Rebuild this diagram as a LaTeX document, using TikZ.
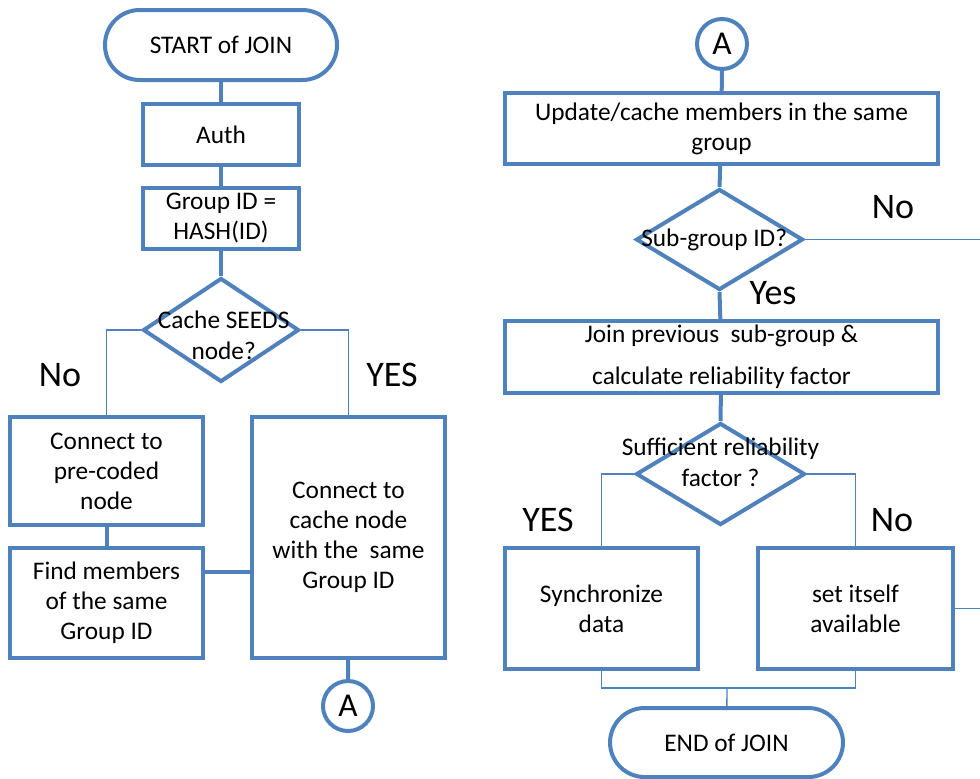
\documentclass[tikz,border=0pt]{standalone}
\usepackage{fontspec}
\setmainfont{Carlito}
\usetikzlibrary{shapes.geometric}
\definecolor{flowblue}{RGB}{79,129,189}

\tikzset{
  box/.style={draw=flowblue, line width=3pt, fill=white, align=center,
    font=\fontsize{19}{22.5}\selectfont, inner sep=2pt},
  term/.style={box, rounded corners=26pt},
  decision/.style={draw=flowblue, line width=3pt, fill=white, diamond, inner sep=0pt},
  dtext/.style={align=center, font=\fontsize{19}{23}\selectfont},
  conn/.style={draw=flowblue, line width=3pt, fill=white, circle, inner sep=0pt,
    minimum size=37.5pt, font=\fontsize{25}{30}\selectfont},
  thickline/.style={draw=flowblue, line width=3pt},
  thinline/.style={draw=flowblue, line width=1pt},
  answer/.style={font=\fontsize{27}{32}\selectfont}
}

\begin{document}
\begin{tikzpicture}[x=0.75pt, y=-0.75pt]
\useasboundingbox (0,0) rectangle (980,778);

\node[term, minimum width=174pt, minimum height=52.5pt] (start) at (221,45) {START of JOIN};
\node[box, minimum width=117pt, minimum height=45.75pt] (auth) at (221,134.5) {Auth};
\node[box, minimum width=117pt, minimum height=45.75pt] (gid) at (221,218.5) {Group ID =\\HASH(ID)};
\node[decision, minimum width=117pt, minimum height=78pt,
  label={[dtext, xshift=2pt, yshift=-4pt]center:Cache SEEDS\\node?}] (seeds) at (221,330) {};
\node[box, minimum width=144.75pt, minimum height=81pt] (pre) at (106.5,471) {Connect to\\pre-coded\\node};
\node[box, minimum width=144.75pt, minimum height=82.5pt] (find) at (106.5,603) {Find members\\of the same\\Group ID};
\node[box, minimum width=144.75pt, minimum height=180.75pt] (cache) at (348.5,537.5) {Connect to\\cache node\\with the\ \ same\\Group ID};
\node[conn] (aL) at (348,706) {A};

\node[conn] (aR) at (722,44) {A};
\node[box, minimum width=324.75pt, minimum height=53.25pt] (upd) at (721.5,128.5) {Update/cache members in the same\\group};
\node[decision, minimum width=125.25pt, minimum height=75.75pt,
  label={[dtext, xshift=-4pt]center:Sub-group ID?}] (sub) at (719.5,239.5) {};
\node[box, minimum width=324.75pt, minimum height=54pt] (join) at (721.5,357) {Join previous\ \ sub-group \&\\[9pt]calculate reliability factor};
\node[decision, minimum width=126.75pt, minimum height=76.5pt,
  label={[dtext, yshift=9pt]center:Sufficient reliability\\factor ?}] (suff) at (720.5,474) {};
\node[box, minimum width=144.75pt, minimum height=90.75pt] (sync) at (601.5,608.5) {Synchronize\\data};
\node[box, minimum width=146.25pt, minimum height=90.75pt] (self) at (855.5,608.5) {set itself\\available};
\node[term, minimum width=174.75pt, minimum height=51.75pt] (stop) at (726.5,742.5) {END of JOIN};

\coordinate (fj) at ([yshift=23.25pt]find.east);
\coordinate (subout) at (980,239.5);
\coordinate (selfout) at (980,608.5);
\coordinate (mrg) at (727,688);

\draw[thickline] (start) -- (auth);
\draw[thickline] (auth) -- (gid);
\draw[thickline] (gid) -- (seeds.north);
\draw[thinline] (seeds.west) -| (pre.north);
\draw[thinline] (seeds.east) -| (cache.north);
\draw[thickline] (pre) -- (find);
\draw[thickline] (fj) -- (fj -| cache.west);
\draw[thickline] (cache) -- (aL);

\draw[thickline] (aR) -- (upd);
\draw[thickline] (upd) -- (sub.north);
\draw[thinline] (sub.east) -- (subout);
\draw[thickline] (sub.south) -- (join);
\draw[thickline] (join) -- (suff.north);
\draw[thinline] (suff.west) -| (sync.north);
\draw[thinline] (suff.east) -| (self.north);
\draw[thinline] (self.east) -- (selfout);
\draw[thinline] (sync.south) |- (mrg) -| (self.south);
\draw[thinline] (mrg) -- (stop);

\node[answer] (no1) at (60,375) {No};
\node[answer] (yes1) at (392,375) {YES};
\node[answer] (no2) at (893,207) {No};
\node[answer] (yes2) at (773,293) {Yes};
\node[answer] (yes3) at (548,520) {YES};
\node[answer] (no3) at (892,520) {No};
\end{tikzpicture}
\end{document}
